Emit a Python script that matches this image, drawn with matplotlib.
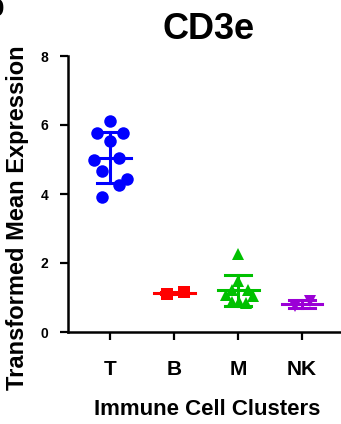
import matplotlib
matplotlib.use("Agg")
from matplotlib import pyplot as plt
import numpy as np

plt.rcParams['font.family'] = ['Liberation Sans', 'DejaVu Sans']
plt.rcParams['font.weight'] = 'bold'

groups = ['T', 'B', 'M', 'NK']
colors = ['#0000FF', '#FF0000', '#00C000', '#9B00D6']
markers = ['o', 's', '^', 'v']

t_vals = [6.12, 5.78, 5.78, 5.55, 4.99, 5.05, 4.68, 4.43, 4.26, 3.90]
b_vals = [1.10, 1.15]
m_vals = [2.27, 1.49, 1.22, 1.22, 1.07, 1.03, 0.88, 0.86, 0.85]
nk_vals = [0.74, 0.90]
values = [t_vals, b_vals, m_vals, nk_vals]

# horizontal spread of points inside each column
t_off = [0, -0.2, 0.2, 0, -0.26, 0.13, -0.13, 0.26, 0.13, -0.13]
b_off = [-0.11, 0.15]
m_off = [0, 0, -0.1, 0.16, -0.19, 0.23, -0.1, 0.02, 0.12]
nk_off = [-0.11, 0.13]
offsets = [t_off, b_off, m_off, nk_off]

W, H = 341, 424
fig = plt.figure(figsize=(W / 100, H / 100), dpi=100)
ax = fig.add_axes([68 / W, 92 / H, (W - 68) / W, (332 - 56) / H])

for i, (v, off, c, mk) in enumerate(zip(values, offsets, colors, markers)):
    v = np.array(v)
    x = i + np.array(off)
    ax.plot(x, v, linestyle='none', marker=mk, color=c, markersize=9,
            markeredgewidth=0, zorder=3)
    mean = v.mean()
    sd = v.std(ddof=1)
    ax.plot([i - 0.32, i + 0.32], [mean, mean], color=c, lw=2.2, zorder=4)
    ax.plot([i, i], [mean - sd, mean + sd], color=c, lw=2.2, zorder=4)
    ax.plot([i - 0.2, i + 0.2], [mean + sd, mean + sd], color=c, lw=2.2, zorder=4)
    ax.plot([i - 0.2, i + 0.2], [mean - sd, mean - sd], color=c, lw=2.2, zorder=4)

ax.set_xlim(-0.66, 3.61)
ax.set_ylim(0, 8)
ax.set_yticks([0, 2, 4, 6, 8])
ax.set_xticks(range(len(groups)))
ax.set_xticklabels(groups, fontsize=15, fontweight='bold')
for lab in ax.get_yticklabels():
    lab.set_fontsize(10)
    lab.set_fontweight('bold')
ax.tick_params(axis='y', length=6, width=1.6, pad=8)
ax.tick_params(axis='x', length=6, width=1.6, pad=14)
for s in ['top', 'right']:
    ax.spines[s].set_visible(False)
for s in ['left', 'bottom']:
    ax.spines[s].set_linewidth(1.8)
ax.spines['left'].set_bounds(0, 8)

fig.text(209 / W, 1 - 39 / H, 'CD3e', fontsize=26, fontweight='bold',
         ha='center', va='baseline')
fig.text(18 / W, 1 - 218 / H, 'Transformed Mean Expression', fontsize=17,
         fontweight='bold', rotation=90, ha='center', va='center')
fig.text(207.5 / W, 1 - 415 / H, 'Immune Cell Clusters', fontsize=16,
         fontweight='bold', ha='center', va='baseline')
# panel letter, cut off at the top-left corner as in the source figure
fig.text(-14 / W, 1 - 16 / H, 'b', fontsize=22, fontweight='bold',
         ha='left', va='baseline')

fig.savefig('out.png', dpi=100)
